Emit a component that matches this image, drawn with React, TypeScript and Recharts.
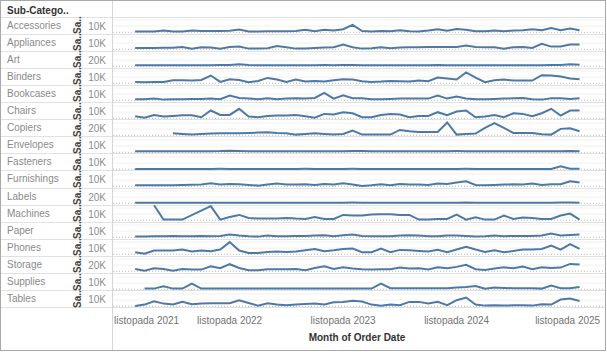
import React from 'react';
import { LineChart, Line, XAxis, YAxis, ReferenceLine } from 'recharts';

// ---------- categories & tick labels ----------
const subCategories = [
  'Accessories', 'Appliances', 'Art', 'Binders', 'Bookcases', 'Chairs', 'Copiers', 'Envelopes',
  'Fasteners', 'Furnishings', 'Labels', 'Machines', 'Paper', 'Phones', 'Storage', 'Supplies', 'Tables',
];
const rowTickLabels = ['10K', '10K', '20K', '10K', '10K', '10K', '20K', '10K', '10K', '10K', '20K', '10K', '10K', '10K', '20K', '10K', '10K'];
const measureLabel = 'Sa..';
const headerLabel = 'Sub-Catego..';
const xAxisTitle = 'Month of Order Date';
// month index 0 = January 2022 ... 47 = December 2025
const monthIndex = [
  0, 1, 2, 3, 4, 5, 6, 7, 8, 9, 10, 11, 12, 13, 14, 15, 16, 17, 18, 19, 20, 21, 22, 23,
  24, 25, 26, 27, 28, 29, 30, 31, 32, 33, 34, 35, 36, 37, 38, 39, 40, 41, 42, 43, 44, 45, 46, 47,
];
const xTickMonths = [-2, 10, 22, 34, 46];
const xTickLabels = ['listopada 2021', 'listopada 2022', 'listopada 2023', 'listopada 2024', 'listopada 2025'];

// ---------- series values (monthly sales) ----------
const accessories = [1100, 1200, 1500, 2800, 1300, 1200, 2900, 2000, 2200, 2000, 2400, 4500, 1300, 1500, 1700, 1800, 1800, 2200, 4000, 1800, 4300, 2800, 5000, 12000, 2000, 1200, 2200, 1900, 3500, 1900, 1400, 2800, 5000, 2600, 5200, 4200, 1900, 1900, 3000, 1900, 2800, 3500, 5000, 3500, 7000, 3500, 6000, 3500];
const appliances = [2200, 2200, 2300, 2400, 2600, 3800, 1100, 3300, 2800, 1100, 3800, 4400, 1100, 1100, 1700, 5500, 3300, 1100, 1200, 2200, 2800, 3300, 7700, 3300, 1100, 1700, 3300, 1700, 2800, 3300, 3300, 3800, 3800, 3800, 3800, 6000, 3800, 3300, 3300, 1100, 3300, 3800, 2200, 8800, 4400, 4400, 7700, 7700];
const art = [1700, 1700, 1800, 1800, 1900, 1700, 1800, 1900, 1800, 2000, 2200, 3300, 2000, 1800, 1700, 1800, 1900, 1800, 1700, 1900, 2000, 1800, 2200, 2000, 1800, 1700, 1700, 1800, 1900, 1700, 1800, 1700, 2000, 1800, 1700, 1800, 1700, 1800, 1900, 1700, 1800, 1800, 1700, 1900, 2000, 2200, 3300, 2600];
const binders = [2200, 1700, 2200, 2200, 5000, 5000, 4400, 5500, 12700, 2200, 6600, 5500, 1700, 3900, 8800, 6100, 2200, 6100, 2800, 3900, 2800, 5000, 6600, 6100, 3300, 2200, 2800, 3900, 3300, 2800, 4400, 3300, 9400, 7700, 6100, 17700, 9400, 1700, 5000, 6100, 4400, 4400, 4400, 13200, 12700, 11000, 7700, 6600];
const bookcases = [1700, 1700, 2800, 1100, 1700, 1700, 2200, 2200, 2800, 1700, 7700, 3900, 2800, 1700, 3300, 1700, 2800, 3300, 2800, 3900, 12000, 2800, 8300, 3300, 3300, 1700, 1700, 2200, 2800, 2800, 2800, 2800, 7700, 2800, 6100, 2800, 1700, 1700, 2200, 2800, 3300, 3900, 1700, 1100, 3300, 3300, 2200, 3300];
const chairs = [3300, 1000, 5500, 2800, 3900, 5000, 5000, 1700, 12700, 5500, 5500, 15500, 2800, 1700, 3900, 4400, 4400, 5500, 3300, 1100, 7200, 6100, 10000, 8300, 1700, 1700, 5500, 7200, 6100, 1700, 3900, 3900, 10000, 5000, 11000, 12700, 1700, 2800, 5500, 1700, 8300, 7200, 3300, 8300, 15500, 4400, 12700, 12700];
const copiers = [null, null, null, null, 3300, 2200, 1100, 2200, 2800, 3300, 3300, 3300, 3900, 4400, 5000, 3900, 3300, 1100, 2200, 3300, 2200, 1100, 2200, 7700, 1100, 1100, 1100, 1100, 8800, 6600, 5500, 5500, 5500, 21000, 1100, 2200, 2800, 12100, 19900, 12100, 3900, 3900, 3900, 1700, 1100, 10500, 11600, 6600];
const envelopes = [1700, 1700, 1700, 1800, 1800, 1700, 1700, 1800, 1900, 2000, 2600, 2200, 1800, 1700, 1900, 1800, 1700, 1900, 1800, 1700, 1800, 1900, 1800, 2000, 2200, 1900, 1700, 1700, 1800, 1700, 1800, 1800, 1700, 1900, 2000, 1900, 1800, 1700, 1800, 1700, 1700, 1800, 1700, 1700, 1800, 1900, 2100, 1900];
const fasteners = [600, 600, 650, 600, 650, 600, 600, 650, 600, 700, 650, 600, 600, 650, 600, 600, 650, 600, 700, 650, 600, 650, 600, 700, 650, 600, 600, 650, 600, 650, 600, 650, 600, 650, 600, 700, 650, 600, 650, 600, 650, 600, 650, 600, 650, 4800, 900, 800];
const furnishings = [1700, 1700, 1700, 1900, 1900, 2100, 2400, 2800, 5000, 2800, 3900, 3300, 2200, 1100, 2800, 4400, 2800, 2800, 3300, 2200, 3900, 2800, 5000, 2800, 550, 1700, 3300, 1700, 3900, 2800, 2800, 2200, 4400, 3900, 6100, 8300, 2200, 1700, 2200, 2800, 3300, 2800, 4400, 2200, 3300, 3300, 8300, 6100];
const labels = [800, 800, 900, 850, 900, 800, 900, 850, 800, 900, 1000, 900, 850, 900, 800, 900, 950, 850, 900, 1000, 900, 850, 1000, 1100, 900, 850, 900, 1000, 900, 950, 900, 850, 1000, 900, 950, 1100, 900, 850, 900, 950, 900, 1000, 900, 950, 1000, 1100, 1200, 1000];
const machines = [null, null, 24500, 1100, 1100, 1100, null, null, 23200, 1100, 5500, 8800, 3900, 2800, 2800, 2800, 3900, 2800, 2200, 5500, 2200, 2200, 8800, 7700, 7700, 9400, 9900, 9900, 8800, 8800, 1100, 1100, 2200, 2200, 9400, 1100, 5000, 1100, 1100, 7700, 2200, 4400, 3900, 2200, 2200, 7700, 11000, 1100];
const paper = [1100, 1100, 1700, 1700, 2200, 1700, 1700, 2200, 1700, 2200, 4400, 2800, 1700, 1100, 2800, 1700, 1700, 2200, 2200, 2800, 3300, 1700, 3300, 4400, 2200, 1700, 1700, 1700, 2800, 3300, 2800, 1700, 1700, 2800, 2800, 2200, 1100, 1700, 2800, 1700, 2200, 2200, 2200, 2800, 6100, 2800, 3900, 4400];
const phones = [3300, 1100, 6100, 6100, 6100, 7700, 4400, 6100, 5000, 7700, 19900, 6100, 2200, 2200, 3900, 4400, 3900, 4400, 6600, 8800, 5000, 6600, 8800, 9400, 3300, 3300, 9400, 3300, 7200, 6600, 5500, 4400, 7200, 3300, 7700, 12100, 7700, 3900, 6600, 3300, 5500, 7700, 7700, 8800, 14400, 7700, 16600, 8800];
const storage = [3900, 1100, 5000, 3900, 1100, 3900, 2800, 2800, 8300, 5000, 11600, 5500, 1700, 1700, 3300, 3300, 3300, 3900, 1700, 5500, 8300, 3900, 6600, 4400, 3300, 2800, 3300, 3300, 6100, 4400, 5000, 2800, 6600, 5000, 7200, 10500, 3300, 2200, 4400, 6600, 5000, 7700, 3300, 6600, 5500, 6100, 12100, 11000];
const supplies = [null, 1100, 1100, 5000, 1100, 1100, 9400, 1100, 1100, 1100, 1100, 1100, 1100, 1100, 1100, 1100, 1100, 1100, 1100, 1100, 1100, 1100, 1200, 1200, 1200, 1200, 9400, 1700, 1700, 1700, 1700, 1700, 1700, 1700, 2800, 3900, 5500, 1100, 2800, 2200, 1700, 1700, 1700, 1100, 6100, 1700, 1700, 3900];
const tables = [550, 2800, 8300, 4400, 2800, 7200, 3300, 4400, 5000, 5000, 5000, 9900, 5500, 1100, 5000, 2800, 1700, 2800, 3900, 4400, 2800, 6600, 7000, 9000, 7700, 2800, 1100, 2800, 1700, 7200, 7200, 4400, 7200, 1700, 9900, 14400, 2800, 1100, 1700, 1100, 1700, 1700, 1100, 3300, 2800, 11000, 12700, 8800];

const seriesList = [
  accessories, appliances, art, binders, bookcases, chairs, copiers, envelopes,
  fasteners, furnishings, labels, machines, paper, phones, storage, supplies, tables,
];

// ---------- layout ----------
const FONT = '"Liberation Sans", Arial, sans-serif';
const ROW_TOP = 16.5;
const ROW_H = 17.1;
const PANE_X = 113;
const PANE_W = 492;
const X_DOMAIN: [number, number] = [-2.33, 49.68];
const Y_DOMAIN: [number, number] = [0, 25000];
const LINE_COLOR = '#4e79a7';

const XTick = (props: any) => {
  const { x, y, payload, index } = props;
  const label = xTickLabels[xTickMonths.indexOf(payload.value)] ?? '';
  let anchor: 'start' | 'middle' | 'end' = 'middle';
  let dx = 0;
  if (index === 0) { anchor = 'start'; dx = -2; }
  if (index === xTickMonths.length - 1) { anchor = 'end'; dx = 30; }
  return (
    <text x={x + dx} y={y + 8} textAnchor={anchor} dominantBaseline="central"
      fontSize={10} fill="#737373" fontFamily={FONT}>
      {label}
    </text>
  );
};

export default function App() {
  return (
    <div style={{ position: 'absolute', left: 0, top: 0, width: 607, height: 352, background: '#fff', fontFamily: FONT, overflow: 'hidden' }}>
      {/* header */}
      <div style={{ position: 'absolute', left: 7, top: 4, fontSize: 10, fontWeight: 'bold', color: '#333', lineHeight: '13px' }}>{headerLabel}</div>

      {/* row separators */}
      {Array.from({ length: subCategories.length + 1 }).map((_, k) => (
        <div key={'sep' + k} style={{ position: 'absolute', left: 0, top: Math.round(ROW_TOP + k * ROW_H), width: 606, height: 1, background: '#e1e1e1' }} />
      ))}

      {/* vertical divider */}
      <div style={{ position: 'absolute', left: 112, top: 0, width: 1, height: 351, background: '#d6d6d6' }} />

      {/* row headers */}
      {subCategories.map((name, i) => {
        const top = ROW_TOP + i * ROW_H;
        return (
          <React.Fragment key={name}>
            <div style={{ position: 'absolute', left: 7, top, height: ROW_H, lineHeight: ROW_H + 'px', fontSize: 10, color: '#8a8a8a', whiteSpace: 'nowrap' }}>{name}</div>
            <div style={{ position: 'absolute', left: 78, top: top + ROW_H / 2, width: 0, height: 0 }}>
              <div style={{ position: 'absolute', left: -12, top: -6, width: 24, height: 12, lineHeight: '12px', textAlign: 'center', fontSize: 10, fontWeight: 'bold', color: '#444', transform: 'rotate(-90deg)', whiteSpace: 'nowrap' }}>{measureLabel}</div>
            </div>
            <div style={{ position: 'absolute', left: 80, width: 26, top: top + 1, height: ROW_H, lineHeight: ROW_H + 'px', textAlign: 'right', fontSize: 10, color: '#8c8c8c' }}>{rowTickLabels[i]}</div>
          </React.Fragment>
        );
      })}

      {/* small-multiple line charts */}
      {seriesList.map((series, i) => {
        const data = monthIndex.map((m, j) => ({ m, v: series[j] }));
        return (
          <div key={'chart' + i} style={{ position: 'absolute', left: PANE_X, top: ROW_TOP + i * ROW_H + 0.5 }}>
            <LineChart width={PANE_W} height={ROW_H} data={data} margin={{ top: 0, right: 0, bottom: 1.8, left: 0 }}>
              <XAxis type="number" dataKey="m" domain={X_DOMAIN} hide />
              <YAxis type="number" domain={Y_DOMAIN} hide />
              <ReferenceLine y={10000} stroke="#f1f1f1" />
              <ReferenceLine y={20000} stroke="#f1f1f1" />
              <ReferenceLine y={0} stroke="#b8b8b8" strokeDasharray="1 2" />
              <Line type="linear" dataKey="v" stroke={LINE_COLOR} strokeWidth={2} dot={false} connectNulls isAnimationActive={false} />
            </LineChart>
          </div>
        );
      })}

      {/* x axis */}
      <div style={{ position: 'absolute', left: PANE_X, top: 308 }}>
        <LineChart width={PANE_W} height={44} data={[{ m: xTickMonths[0], v: null }, { m: xTickMonths[4], v: null }]} margin={{ top: 0, right: 0, bottom: 0, left: 0 }}>
          <XAxis type="number" dataKey="m" domain={X_DOMAIN} ticks={xTickMonths} interval={0} axisLine={false} tickLine={false} tickSize={0} tickMargin={0} height={40} tick={<XTick />} />
          <YAxis type="number" domain={Y_DOMAIN} hide />
          <Line dataKey="v" stroke="none" dot={false} isAnimationActive={false} />
        </LineChart>
      </div>
      <div style={{ position: 'absolute', left: PANE_X, width: PANE_W - 4, top: 331, textAlign: 'center', fontSize: 10, fontWeight: 'bold', color: '#333', lineHeight: '13px' }}>{xAxisTitle}</div>

      {/* outer border */}
      <div style={{ position: 'absolute', left: 0, top: 0, width: 604, height: 349, border: '1px solid #a8a8a8', pointerEvents: 'none' }} />
    </div>
  );
}
